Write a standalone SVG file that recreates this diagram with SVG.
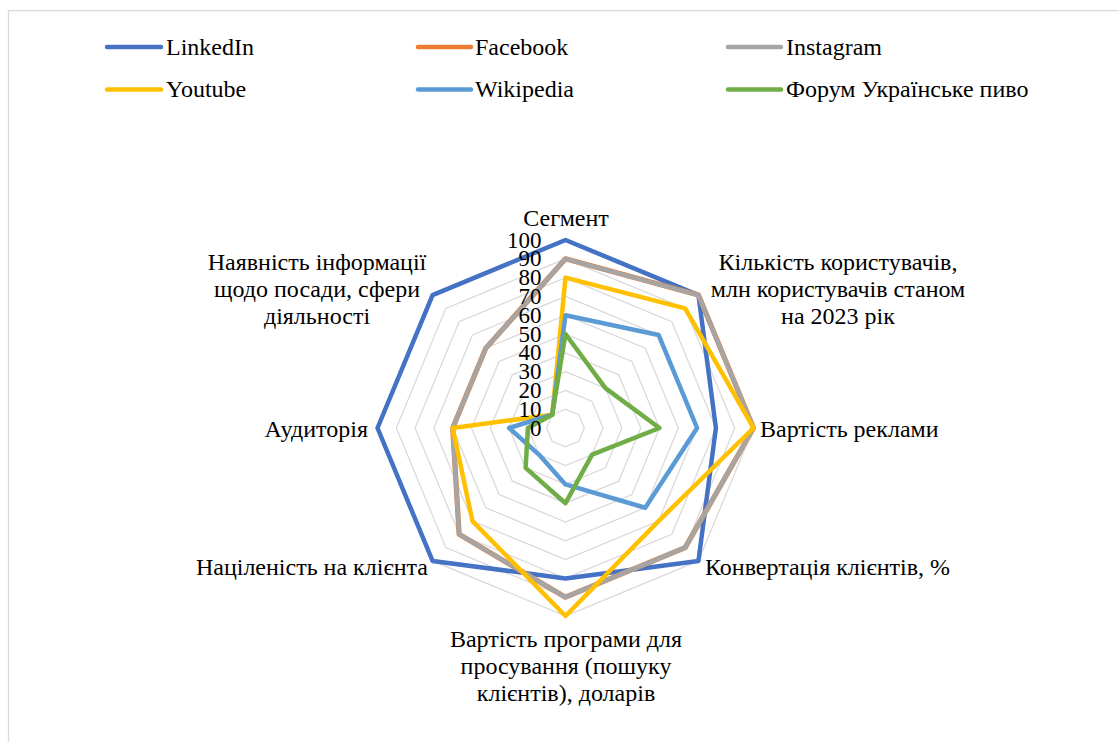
<svg xmlns="http://www.w3.org/2000/svg" width="1119" height="742" viewBox="0 0 1119 742">
<style>
text{font-family:"Liberation Serif","Times New Roman",serif;font-size:24px;fill:#000}
.grid{fill:none;stroke:#D9D9D9;stroke-width:1.25}
.s{fill:none;stroke-width:4.5;stroke-linejoin:round;stroke-linecap:round}
.leg{stroke-width:4.5;stroke-linecap:round}
.li{stroke:#4472C4}.fb{stroke:#ED7D31}.ig{stroke:#A5A5A5}.yt{stroke:#FFC000}.wk{stroke:#5B9BD5}.fu{stroke:#70AD47}
.val{text-anchor:end;font-size:23px}
.mid{text-anchor:middle}
.end{text-anchor:end}
</style>
<rect x="0" y="0" width="1119" height="742" fill="#FFFFFF"/>
<path d="M8.5,742 V10.5 H1119" fill="none" stroke="#D9D9D9" stroke-width="1.25"/>

<g id="legend">
<line class="leg li" x1="107" y1="47" x2="161" y2="47"/><text x="166" y="55">LinkedIn</text>
<line class="leg fb" x1="418" y1="47" x2="471" y2="47"/><text x="475" y="55">Facebook</text>
<line class="leg ig" x1="728" y1="47" x2="781" y2="47"/><text x="786" y="55">Instagram</text>
<line class="leg yt" x1="107" y1="89.5" x2="161" y2="89.5"/><text x="166" y="97">Youtube</text>
<line class="leg wk" x1="418" y1="89.5" x2="471" y2="89.5"/><text x="475" y="97">Wikipedia</text>
<line class="leg fu" x1="728" y1="89.5" x2="781" y2="89.5"/><text x="786" y="97">Форум Українське пиво</text>
</g>

<g id="grid" transform="translate(565.5,428)">
<polygon class="grid" points="0,-18.8 13.29,-13.29 18.8,0 13.29,13.29 0,18.8 -13.29,13.29 -18.8,0 -13.29,-13.29"/>
<polygon class="grid" points="0,-37.6 26.59,-26.59 37.6,0 26.59,26.59 0,37.6 -26.59,26.59 -37.6,0 -26.59,-26.59"/>
<polygon class="grid" points="0,-56.4 39.88,-39.88 56.4,0 39.88,39.88 0,56.4 -39.88,39.88 -56.4,0 -39.88,-39.88"/>
<polygon class="grid" points="0,-75.2 53.17,-53.17 75.2,0 53.17,53.17 0,75.2 -53.17,53.17 -75.2,0 -53.17,-53.17"/>
<polygon class="grid" points="0,-94 66.47,-66.47 94,0 66.47,66.47 0,94 -66.47,66.47 -94,0 -66.47,-66.47"/>
<polygon class="grid" points="0,-112.8 79.76,-79.76 112.8,0 79.76,79.76 0,112.8 -79.76,79.76 -112.8,0 -79.76,-79.76"/>
<polygon class="grid" points="0,-131.6 93.06,-93.06 131.6,0 93.06,93.06 0,131.6 -93.06,93.06 -131.6,0 -93.06,-93.06"/>
<polygon class="grid" points="0,-150.4 106.35,-106.35 150.4,0 106.35,106.35 0,150.4 -106.35,106.35 -150.4,0 -106.35,-106.35"/>
<polygon class="grid" points="0,-169.2 119.64,-119.64 169.2,0 119.64,119.64 0,169.2 -119.64,119.64 -169.2,0 -119.64,-119.64"/>
<polygon class="grid" points="0,-188 132.94,-132.94 188,0 132.94,132.94 0,188 -132.94,132.94 -188,0 -132.94,-132.94"/>
</g>

<g id="series" transform="translate(565.5,428)">
<polygon id="linkedin" class="s li" points="0,-188 132.94,-132.94 150.4,0 132.94,132.94 0,150.4 -132.94,132.94 -188,0 -132.94,-132.94"/>
<polygon id="facebook" class="s fb" style="stroke-width:5.2" points="0,-169.2 132.94,-132.94 188,0 119.64,119.64 0,169.2 -106.35,106.35 -112.8,0 -79.76,-79.76"/>
<polygon id="instagram" class="s ig" points="0,-169.2 132.94,-132.94 188,0 119.64,119.64 0,169.2 -106.35,106.35 -112.8,0 -79.76,-79.76"/>
<polygon id="youtube" class="s yt" points="0,-150.4 119.64,-119.64 188,0 93.06,93.06 0,188 -93.06,93.06 -112.8,0 -13.29,-13.29"/>
<polygon id="wikipedia" class="s wk" points="0,-112.8 93.06,-93.06 131.6,0 79.76,79.76 0,56.4 -26.59,26.59 -56.4,0 -13.29,-13.29"/>
<polygon id="forum" class="s fu" points="0,-94 39.88,-39.88 94,0 26.59,26.59 0,75.2 -39.88,39.88 -37.6,0 -13.29,-13.29"/>
</g>

<g id="axis-values">
<text class="val" x="541.5" y="435.5">0</text>
<text class="val" x="541.5" y="416.7">10</text>
<text class="val" x="541.5" y="397.9">20</text>
<text class="val" x="541.5" y="379.1">30</text>
<text class="val" x="541.5" y="360.3">40</text>
<text class="val" x="541.5" y="341.5">50</text>
<text class="val" x="541.5" y="322.7">60</text>
<text class="val" x="541.5" y="303.9">70</text>
<text class="val" x="541.5" y="285.1">80</text>
<text class="val" x="541.5" y="266.3">90</text>
<text class="val" x="541.5" y="247.5">100</text>
</g>

<g id="category-labels">
<text class="mid" x="566" y="226">Сегмент</text>
<text class="mid" x="838" y="270">Кількість користувачів,</text>
<text class="mid" x="838" y="297">млн користувачів станом</text>
<text class="mid" x="838" y="323.5">на 2023 рік</text>
<text x="760" y="437">Вартість реклами</text>
<text x="705" y="575">Конвертація клієнтів, %</text>
<text class="mid" x="566" y="647">Вартість програми для</text>
<text class="mid" x="566" y="674">просування (пошуку</text>
<text class="mid" x="566" y="700.5">клієнтів), доларів</text>
<text class="end" x="428" y="575">Націленість на клієнта</text>
<text class="end" x="368" y="437">Аудиторія</text>
<text class="mid" x="317" y="270">Наявність інформації</text>
<text class="mid" x="317" y="297">щодо посади, сфери</text>
<text class="mid" x="317" y="323.5">діяльності</text>
</g>
</svg>
